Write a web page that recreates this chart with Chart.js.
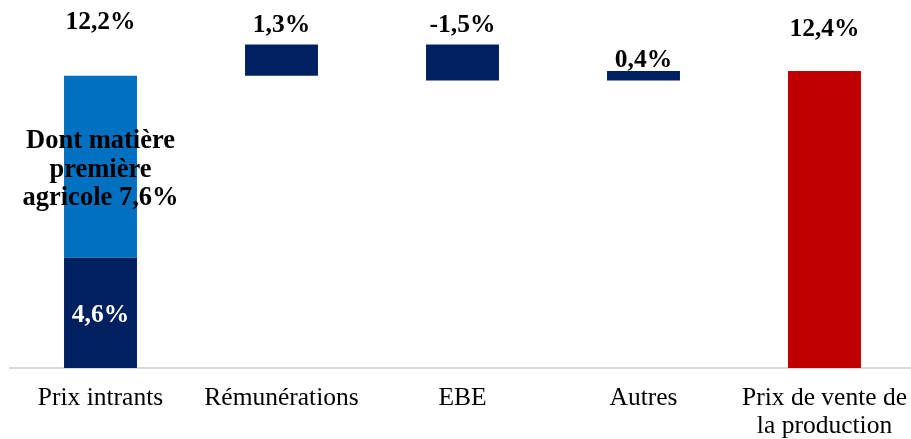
<!DOCTYPE html>
<html>
<head>
<meta charset="utf-8">
<script src="https://cdn.jsdelivr.net/npm/chart.js@4"></script>
<style>
  html, body { margin: 0; padding: 0; background: #fff; overflow: hidden; width: 911px; height: 439px; }
  #wrap { position: absolute; left: 0; top: 0; width: 940px; height: 439px; }
</style>
</head>
<body>
<div id="wrap"><canvas id="c" width="940" height="439"></canvas></div>
<script>
// ---- Data ----
const categories = ['Prix intrants', 'Rémunérations', 'EBE', 'Autres', ['Prix de vente de', 'la production']];
const inputsOther = 4.6;          // dark part of "Prix intrants"
const inputsAgricultural = 7.6;   // "Dont matière première agricole"
const changes = [12.2, 1.3, -1.5, 0.4]; // contributions (first = total input prices)
const outputPrice = 12.4;
const topLabels = ['12,2%', '1,3%', '-1,5%', '0,4%', '12,4%'];
const agriLabel = ['Dont matière', 'première', 'agricole 7,6%'];
const otherLabel = '4,6%';

// ---- Build floating ranges ----
const navyData = [];
const lightData = [];
const redData = [];
let cum = 0;
changes.forEach((v, i) => {
  if (i === 0) {
    navyData.push([0, inputsOther]);
    lightData.push([inputsOther, inputsOther + inputsAgricultural]);
  } else {
    navyData.push([cum, cum + v]);
    lightData.push(null);
  }
  redData.push(null);
  cum += v;
});
navyData.push(null); lightData.push(null); redData.push([0, outputPrice]);

// label offsets (style): distance in px from bar top to label baseline
const labelBaselineOffsets = [46.4, 12.8, 12.8, 4.2, 35];

const serif = '"Liberation Serif", "Times New Roman", serif';

const labelPlugin = {
  id: 'labels',
  afterDatasetsDraw(chart) {
    const ctx = chart.ctx;
    const x = chart.scales.x, y = chart.scales.y;
    ctx.save();
    ctx.textAlign = 'center';
    ctx.textBaseline = 'alphabetic';
    ctx.font = 'bold 25.5px ' + serif;
    ctx.fillStyle = '#000';
    for (let i = 0; i < categories.length; i++) {
      let top;
      if (i === 0) top = y.getPixelForValue(inputsOther + inputsAgricultural);
      else if (i === categories.length - 1) top = y.getPixelForValue(outputPrice);
      else top = y.getPixelForValue(Math.max(navyData[i][0], navyData[i][1]));
      ctx.fillText(topLabels[i], x.getPixelForValue(i), top - labelBaselineOffsets[i]);
    }
    // inner labels of first bar
    const cx = x.getPixelForValue(0);
    ctx.font = 'bold 26.5px ' + serif;
    const midLight = (y.getPixelForValue(inputsOther) + y.getPixelForValue(inputsOther + inputsAgricultural)) / 2;
    agriLabel.forEach((t, k) => ctx.fillText(t, cx, midLight - 18.5 + k * 28.5));
    const midDark = (y.getPixelForValue(0) + y.getPixelForValue(inputsOther)) / 2;
    ctx.fillStyle = '#fff';
    ctx.font = 'bold 25.5px ' + serif;
    ctx.fillText(otherLabel, cx, midDark + 9.5);
    ctx.restore();
  }
};

new Chart(document.getElementById('c'), {
  type: 'bar',
  data: {
    labels: categories,
    datasets: [
      { data: navyData, backgroundColor: '#002060', grouped: false },
      { data: lightData, backgroundColor: '#0070C0', grouped: false },
      { data: redData, backgroundColor: '#C00000', grouped: false }
    ]
  },
  options: {
    responsive: false,
    animation: false,
    barPercentage: 0.403,
    categoryPercentage: 1,
    layout: { padding: { left: 10, right: 25, top: 8.6, bottom: 0 } },
    plugins: { legend: { display: false }, tooltip: { enabled: false } },
    scales: {
      x: {
        grid: { display: false, drawTicks: false },
        border: { display: true, color: '#D9D9D9', width: 2 },
        ticks: {
          color: '#000',
          font: { family: serif, size: 25.5, lineHeight: 1.1 },
          padding: 16,
          maxRotation: 0,
          autoSkip: false
        },
        afterFit(scale) { scale.height = 71; }
      },
      y: { display: false, min: 0, max: 15 }
    }
  },
  plugins: [labelPlugin]
});
</script>
</body>
</html>
